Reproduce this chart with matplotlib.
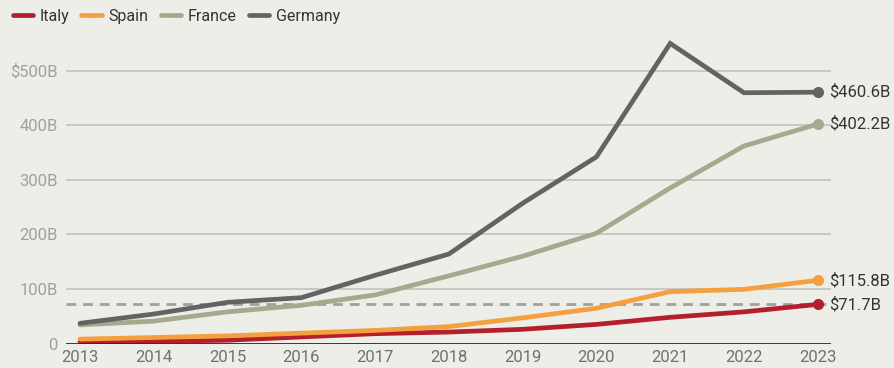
import matplotlib
matplotlib.use("Agg")
import matplotlib.pyplot as plt
from matplotlib.lines import Line2D

plt.rcParams['font.family'] = ['Roboto', 'DejaVu Sans']

years = [2013, 2014, 2015, 2016, 2017, 2018, 2019, 2020, 2021, 2022, 2023]
italy = [3, 4, 6, 12, 18, 21, 26, 35, 48, 58, 71.7]
spain = [8, 11, 14, 19, 24, 31, 47, 64.5, 95, 99.3, 115.8]
france = [34, 41, 58, 70, 89, 124, 160, 202, 285, 362, 402.2]
germany = [37, 54, 75.5, 84, 125, 164, 257, 342, 550, 459.6, 460.6]

series_names = ["Italy", "Spain", "France", "Germany"]
series_values = [italy, spain, france, germany]
series_colors = ["#B3202C", "#F5A03F", "#A6A98E", "#636363"]

y_ticks = [0, 100, 200, 300, 400, 500]
y_tick_labels = ["0", "100B", "200B", "300B", "400B", "$500B"]
end_labels = ["$71.7B", "$115.8B", "$402.2B", "$460.6B"]
reference_value = 71.7

bg = "#EEEEE9"
W, H = 894, 368
fig = plt.figure(figsize=(W / 100, H / 100), dpi=100, facecolor=bg)
ax = fig.add_axes([66 / W, (H - 343.5) / H, (831 - 66) / W, 560 * 0.5456 / H])
ax.set_facecolor(bg)

ax.set_xlim(2012.81, 2023.18)
ax.set_ylim(0, 560)

for t in y_ticks[1:]:
    ax.axhline(t, color="#BDBDBA", lw=1.1, zorder=1)
ax.axhline(0, color="#2B2B2B", lw=1.3, zorder=5)
ax.axhline(reference_value, color="#A0A09C", lw=2, ls=(0, (3.5, 2.5)), zorder=2)

# draw the four series, Germany on top
for name, vals, col, lab in zip(series_names, series_values, series_colors, end_labels):
    ax.plot(years, vals, color=col, lw=3.4, solid_capstyle="round",
            solid_joinstyle="miter", zorder=3)
    ax.plot(years[-1], vals[-1], "o", color=col, ms=7, zorder=4)
    ax.annotate(lab, (years[-1], vals[-1]), xytext=(8, 0), textcoords="offset points",
                va="center", ha="left", fontsize=12, color="#333333",
                annotation_clip=False)

for s in ax.spines.values():
    s.set_visible(False)

ax.set_yticks(y_ticks)
ax.set_yticklabels(y_tick_labels)
ax.set_xticks(years)
ax.set_xticklabels([str(y) for y in years])
ax.tick_params(axis="y", length=0, pad=6, labelsize=12, labelcolor="#A0A0A0")
ax.tick_params(axis="x", length=0, pad=5, labelsize=12, labelcolor="#707070")

handles = [Line2D([0], [0], color=c, lw=3.4, solid_capstyle="round") for c in series_colors]
fig.legend(handles, series_names, loc="upper left", bbox_to_anchor=(-0.002, 1.015),
           ncol=4, frameon=False, fontsize=11.5, handlelength=1.3, handletextpad=0.4,
           columnspacing=0.75, labelcolor="#333333")

fig.savefig("out.png", dpi=100, facecolor=bg)
